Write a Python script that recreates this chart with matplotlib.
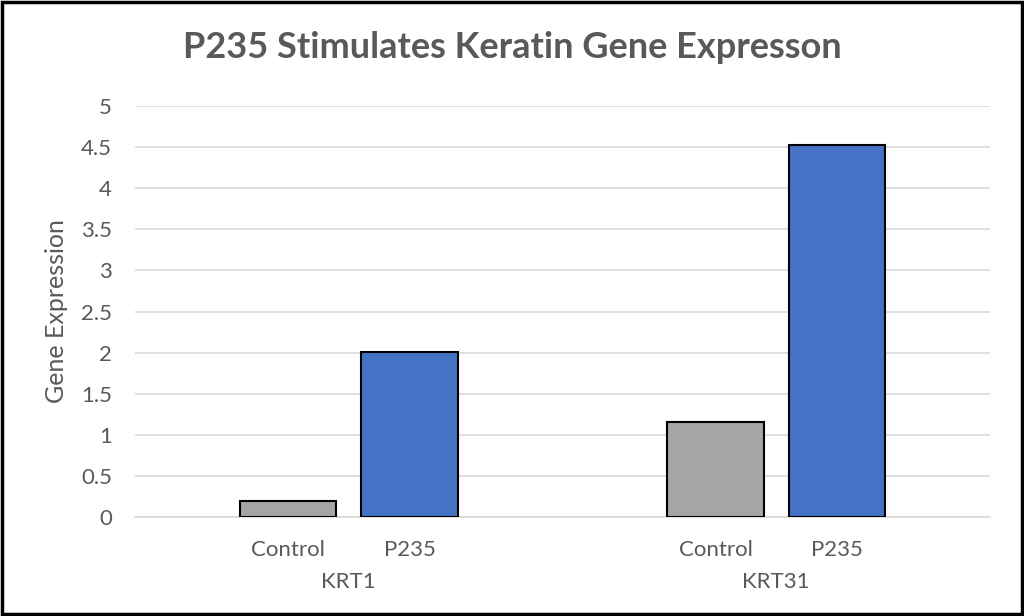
import numpy as np
import matplotlib.pyplot as plt
from matplotlib.patches import Rectangle

# Daten
genes = ["KRT1", "KRT31"]
conditions = ["Control", "P235"]
control_vals = [0.19, 1.15]
p235_vals = [2.01, 4.52]
y_ticks = [0, 0.5, 1, 1.5, 2, 2.5, 3, 3.5, 4, 4.5, 5]

plt.rcParams["font.family"] = ["Lato", "DejaVu Sans"]
txt_color = "#595959"

fig = plt.figure(figsize=(10.24, 6.16), dpi=100)
ax = fig.add_axes([135 / 1024, 1 - 517 / 616, 855 / 1024, 411 / 616])

x = np.arange(len(genes))
offset = 0.142
width = 0.225

ax.bar(x - offset, control_vals, width, color="#A5A5A5", edgecolor="black", linewidth=1.5, zorder=3)
ax.bar(x + offset, p235_vals, width, color="#4472C4", edgecolor="black", linewidth=1.5, zorder=3)

ax.set_xlim(-0.5, 1.5)
ax.set_ylim(0, 5)
ax.set_yticks(y_ticks)
ax.set_yticklabels([f"{v:g}" for v in y_ticks], fontsize=16, color=txt_color)
ax.tick_params(axis="y", length=0, pad=16.5)
ax.grid(axis="y", color="#D9D9D9", linewidth=1.2, zorder=0)

# zweistufige x-Achse: Bedingung und Gen
ax.set_xticks([])
for i, gene in enumerate(genes):
    for j, cond in enumerate(conditions):
        xpos = i + (j * 2 - 1) * offset
        ax.annotate(cond, xy=(xpos, 0), xycoords=("data", "axes fraction"),
                    xytext=(0, -24), textcoords="offset points",
                    ha="center", va="center", fontsize=16, color=txt_color)
    ax.annotate(gene, xy=(i, 0), xycoords=("data", "axes fraction"),
                xytext=(0, -47), textcoords="offset points",
                ha="center", va="center", fontsize=16, color=txt_color)

for s in ["top", "right", "left"]:
    ax.spines[s].set_visible(False)
ax.spines["bottom"].set_color("#D9D9D9")
ax.spines["bottom"].set_linewidth(1.2)

fig.text(57 / 1024, 1 - 311 / 616, "Gene Expression", rotation=90,
         ha="center", va="center", fontsize=18, color=txt_color)

fig.text(0.5, 1 - 47 / 616, "P235 Stimulates Keratin Gene Expresson",
         ha="center", va="center", fontsize=26, fontweight="bold", color=txt_color)

# Rahmen um die ganze Grafik
fig.patches.append(Rectangle((0.002, 0.003), 0.996, 0.994, transform=fig.transFigure,
                             fill=False, edgecolor="black", linewidth=2.5))

fig.savefig("out.png", dpi=100)
